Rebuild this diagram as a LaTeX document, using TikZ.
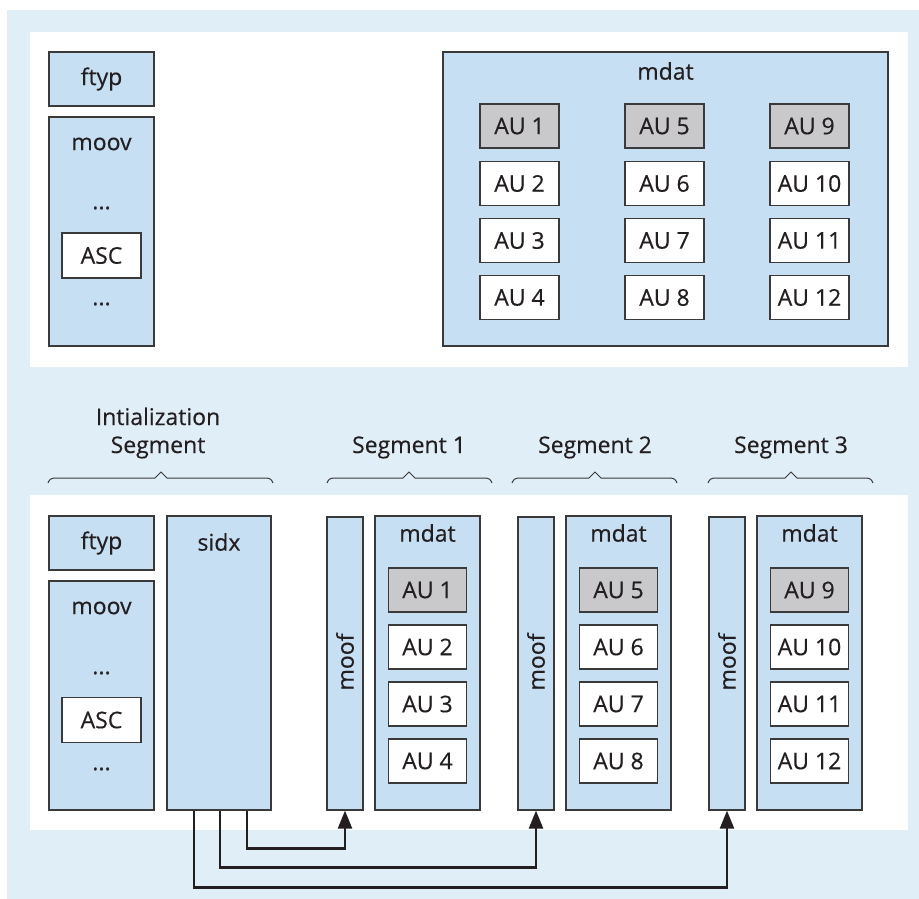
\documentclass[tikz,border=0pt]{standalone}
\usepackage{fontspec}
\setmainfont{Open Sans}[FakeBold=0.4]
\usetikzlibrary{arrows.meta}
\definecolor{panelbg}{HTML}{E0EEF8}
\definecolor{boxfill}{HTML}{C7DFF2}
\definecolor{keyfill}{HTML}{C9C8CA}
\definecolor{ink}{HTML}{231F20}
\definecolor{edge}{HTML}{3A3A3A}
\tikzset{
  every node/.style={font=\fontsize{23}{27}\selectfont, text=ink, inner sep=0pt},
  boxbase/.style={draw=edge, line width=1.2pt, rectangle, anchor=center},
  atom/.style={boxbase, fill=boxfill},
  unit/.style={boxbase, fill=white, minimum width=79pt, minimum height=44pt},
  keyunit/.style={unit, fill=keyfill},
  lbl/.style={anchor=center},
  brc/.style={draw=edge, line width=1pt},
  link/.style={draw=ink, line width=2.5pt, -{Triangle[length=18pt,width=14pt]}},
}
\begin{document}
\begin{tikzpicture}[x=1pt, y=-1pt]
  \useasboundingbox (0,0) rectangle (919,899);
  % backgrounds
  \fill[panelbg] (7,10) rectangle (919,899);
  \fill[white] (30,32) rectangle (908,367);
  \fill[white] (30,495) rectangle (908,830);

  % ---------- plain MP4 file ----------
  \node[atom, minimum width=105pt, minimum height=54pt] (ftypA) at (101.5,79) {ftyp};
  \node[atom, minimum width=105pt, minimum height=229pt] (moovA) at (101.5,231.5) {};
  \node[lbl] (moovAt) at (101.5,144) {moov};
  \node[lbl] (dotsA1) at (101.5,208) {...};
  \node[unit, minimum width=79pt, minimum height=45pt] (ascA) at (101.5,255.5) {ASC};
  \node[lbl] (dotsA2) at (101.5,304) {...};

  \node[atom, minimum width=445pt, minimum height=294pt] (mdatA) at (665.5,199) {};
  \node[lbl] (mdatAt) at (665.5,71) {mdat};
  \foreach \c/\x in {0/519.5,1/664.5,2/809.5}{
    \foreach \r/\y in {1/126,2/183.5,3/240.5,4/297.5}{
      \pgfmathtruncatemacro{\n}{4*\c+\r}
      \ifnum\r=1
        \node[keyunit] (auA\n) at (\x,\y) {AU \n};
      \else
        \node[unit] (auA\n) at (\x,\y) {AU \n};
      \fi
    }
  }

  % ---------- segment labels and braces ----------
  \node[anchor=base] (initt1) at (158,425) {Intialization};
  \node[anchor=base] (initt2) at (158,453) {Segment};
  \foreach \k/\t in {1/409,2/595,3/791}{
    \node[anchor=base] (segt\k) at (\t,453) {Segment \k};
  }
  \foreach \a/\t/\b in {48/161/273, 327/409/492, 512/595/677, 708/791/873}{
    \draw[brc] (\a,483) .. controls (\a+2,479) .. (\a+6,478) -- (\t-6,478)
      -- (\t,472) -- (\t+6,478) -- (\b-6,478) .. controls (\b-2,479) .. (\b,483);
  }

  % ---------- fragmented MP4 file ----------
  \node[atom, minimum width=105pt, minimum height=54pt] (ftypB) at (101.5,543) {ftyp};
  \node[atom, minimum width=105pt, minimum height=229pt] (moovB) at (101.5,695.5) {};
  \node[lbl] (moovBt) at (101.5,608) {moov};
  \node[lbl] (dotsB1) at (101.5,673) {...};
  \node[unit, minimum width=79pt, minimum height=45pt] (ascB) at (101.5,720) {ASC};
  \node[lbl] (dotsB2) at (101.5,769) {...};

  \node[atom, minimum width=104pt, minimum height=294pt] (sidx) at (219,663) {};
  \node[lbl] (sidxt) at (219,542) {sidx};

  \foreach \k/\mx/\dx in {1/345/427.5, 2/536/618.5, 3/727/809.5}{
    \node[atom, minimum width=36pt, minimum height=293pt] (moof\k) at (\mx,663.5) {};
    \node[lbl, rotate=90] (mooft\k) at (\mx,662) {moof};
    \node[atom, minimum width=105pt, minimum height=294pt] (mdat\k) at (\dx,663) {};
    \node[lbl] (mdatt\k) at (\dx,533) {mdat};
    \foreach \r/\y in {1/590,2/647,3/704,4/761}{
      \pgfmathtruncatemacro{\n}{4*(\k-1)+\r}
      \ifnum\r=1
        \node[keyunit, minimum width=78pt] (au\n) at (\dx,\y) {AU \n};
      \else
        \node[unit, minimum width=78pt] (au\n) at (\dx,\y) {AU \n};
      \fi
    }
  }

  % ---------- sidx references to each moof ----------
  \draw[link] ([xshift=28pt]sidx.south) -- ++(0,38) -| (moof1.south);
  \draw[link] ([xshift=1pt]sidx.south) -- ++(0,57) -| (moof2.south);
  \draw[link] ([xshift=-25pt]sidx.south) -- ++(0,77) -| (moof3.south);
\end{tikzpicture}
\end{document}
